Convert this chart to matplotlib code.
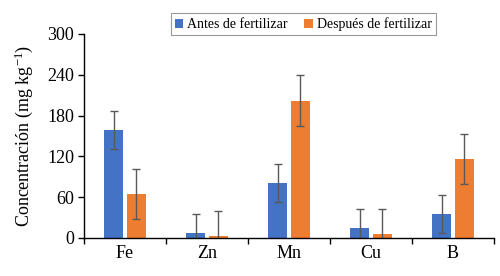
import matplotlib
matplotlib.use("Agg")
import matplotlib.pyplot as plt
import numpy as np

categories = ["Fe", "Zn", "Mn", "Cu", "B"]
antes = [159, 7, 81, 14, 35]
despues = [65, 2.5, 202, 6, 116]
err_antes = [28, 28, 28, 28, 28]
err_despues = [37, 37, 37, 37, 37]
series_labels = ["Antes de fertilizar", "Después de fertilizar"]
yticks = [0, 60, 120, 180, 240, 300]

plt.rcParams['font.family'] = ['Liberation Serif', 'DejaVu Serif']
plt.rcParams['mathtext.fontset'] = 'custom'
plt.rcParams['mathtext.rm'] = 'Liberation Serif'
plt.rcParams['mathtext.it'] = 'Liberation Serif:italic'
plt.rcParams['mathtext.bf'] = 'Liberation Serif:bold'
plt.rcParams['axes.unicode_minus'] = False

fig = plt.figure(figsize=(5.0, 2.76), dpi=100)
ax = fig.add_axes([0.168, 0.138, 0.82, 0.739])

x = np.arange(len(categories))
w = 0.225
off = 0.14
ekw = dict(ecolor="#595959", elinewidth=1.0, capsize=3, capthick=1.0)
ax.bar(x - off, antes, w, yerr=err_antes, color="#4472C4", label=series_labels[0], error_kw=ekw)
ax.bar(x + off, despues, w, yerr=err_despues, color="#ED7D31", label=series_labels[1], error_kw=ekw)

ax.set_xlim(-0.5, len(categories) - 0.5)
ax.set_ylim(0, 300)
ax.set_yticks(yticks)
ax.set_xticks(np.arange(-0.5, len(categories)), minor=False)
ax.set_xticklabels([""] * (len(categories) + 1))
ax.set_xticks(x, minor=True)
ax.set_xticklabels(categories, minor=True)
ax.tick_params(axis='x', which='minor', length=0, labelsize=13, pad=5)
ax.tick_params(axis='x', which='major', length=4, width=1.0, direction='out')
ax.tick_params(axis='y', length=4, width=1.0, direction='out', labelsize=13, pad=3)

for s in ["top", "right"]:
    ax.spines[s].set_visible(False)
ax.spines["left"].set_linewidth(1.0)
ax.spines["bottom"].set_linewidth(1.0)

ax.set_ylabel("Concentración (mg kg$^{\\mathrm{-1}}$)", fontsize=13, labelpad=9)

leg = ax.legend(loc="upper center", bbox_to_anchor=(0.535, 1.135), ncol=2, fontsize=10,
                frameon=True, fancybox=False, edgecolor="#808080", handlelength=0.6,
                handleheight=0.6, handletextpad=0.3, columnspacing=1.2, borderpad=0.3)
leg.get_frame().set_linewidth(0.8)

fig.savefig("out.png", dpi=100)
